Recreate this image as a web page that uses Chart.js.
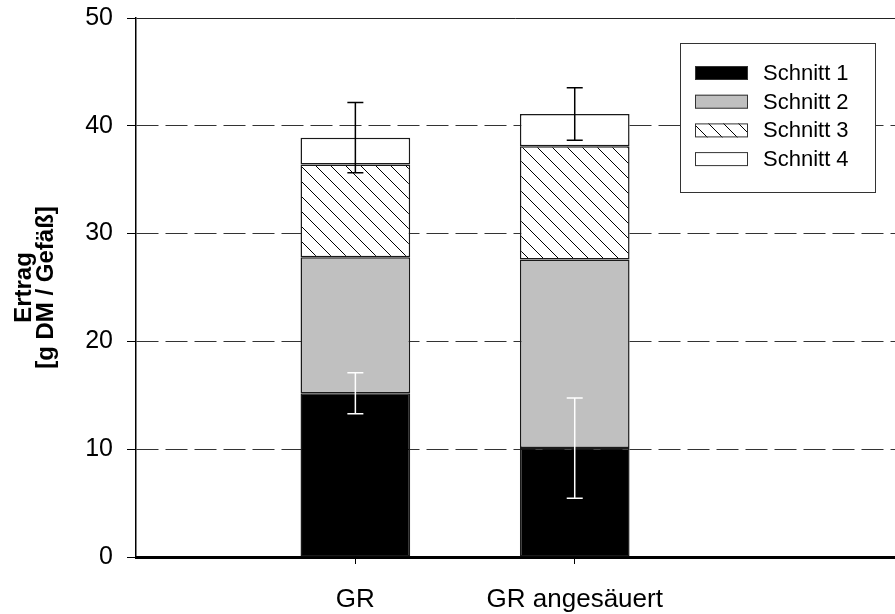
<!DOCTYPE html>
<html>
<head>
<meta charset="utf-8">
<script src="https://cdn.jsdelivr.net/npm/chart.js@4.4.1/dist/chart.umd.min.js"></script>
<style>
  html, body { margin: 0; padding: 0; background: #fff; overflow: hidden; }
  #wrap { width: 895px; height: 614px; }
</style>
</head>
<body>
<div id="wrap"><canvas id="ertrag"></canvas></div>
<script>
// values
const categories = ['GR', 'GR angesäuert'];
const seriesNames = ['Schnitt 1', 'Schnitt 2', 'Schnitt 3', 'Schnitt 4'];
const schnitt1 = [15.2, 10.1];
const schnitt2 = [12.6, 17.5];
const schnitt3 = [8.6, 10.5];
const schnitt4 = [2.5, 3.0];
const schnitt1Err = [1.9, 4.65];   // white error bar on Schnitt 1
const totalErr = [3.25, 2.43];     // black error bar on the whole stack
const yTicks = [0, 10, 20, 30, 40, 50];

const FONT = "'Liberation Sans', Arial, sans-serif";

// diagonal hatching for Schnitt 3
function makeHatch() {
    const c = document.createElement('canvas');
    c.width = 15; c.height = 15;
    const g = c.getContext('2d');
    g.fillStyle = '#fff';
    g.fillRect(0, 0, 15, 15);
    g.strokeStyle = '#000';
    g.lineWidth = 1;
    for (let k = -1; k <= 1; k++) {
        g.beginPath();
        g.moveTo(0, k * 15);
        g.lineTo(15, 15 + k * 15);
        g.stroke();
    }
    return g.createPattern(c, 'repeat');
}
const hatch = makeHatch();

// category i sits at x = i + 1 on a linear axis
const toPoints = arr => arr.map((v, i) => ({ x: i + 1, y: v }));

const fills = ['#000000', '#c0c0c0', hatch, '#ffffff'];
const values = [schnitt1, schnitt2, schnitt3, schnitt4];

const datasets = seriesNames.map((name, s) => ({
    label: name,
    data: toPoints(values[s]),
    backgroundColor: fills[s],
    borderColor: '#1a1a1a',
    borderWidth: 1.5,
    borderSkipped: false,
    grouped: false,
    barPercentage: 0.5,
    categoryPercentage: 1
}));

// error bars, drawn through the y scale
const errorBars = {
    id: 'errorBars',
    afterDatasetsDraw(chart) {
        const ctx = chart.ctx;
        const y = chart.scales.y;
        const meta = chart.getDatasetMeta(0);
        const cap = 8;
        const draw = (x, mean, err, color) => {
            const top = y.getPixelForValue(mean + err);
            const bot = y.getPixelForValue(mean - err);
            ctx.save();
            ctx.strokeStyle = color;
            ctx.lineWidth = 1.5;
            ctx.beginPath();
            ctx.moveTo(x, top); ctx.lineTo(x, bot);
            ctx.moveTo(x - cap, top); ctx.lineTo(x + cap, top);
            ctx.moveTo(x - cap, bot); ctx.lineTo(x + cap, bot);
            ctx.stroke();
            ctx.restore();
        };
        categories.forEach((c, i) => {
            const x = meta.data[i].x;
            draw(x, schnitt1[i], schnitt1Err[i], '#ffffff');
            const total = schnitt1[i] + schnitt2[i] + schnitt3[i] + schnitt4[i];
            draw(x, total, totalErr[i], '#000000');
        });
    }
};

// boxed legend inside the plot area, top right
const boxLegend = {
    id: 'boxLegend',
    afterDraw(chart) {
        const ctx = chart.ctx;
        const area = chart.chartArea;
        const w = 195, h = 149;
        const left = area.right - 20 - w;
        const top = area.top + 25;
        ctx.save();
        ctx.fillStyle = '#fff';
        ctx.fillRect(left, top, w, h);
        ctx.strokeStyle = '#333';
        ctx.lineWidth = 1;
        ctx.strokeRect(left + 0.5, top + 0.5, w, h);
        chart.data.datasets.forEach((ds, i) => {
            const cy = top + 30 + i * 28.7;
            ctx.fillStyle = ds.backgroundColor;
            ctx.fillRect(left + 15, cy - 7, 53, 14);
            ctx.strokeStyle = '#333';
            ctx.strokeRect(left + 15.5, cy - 6.5, 52, 13);
            ctx.fillStyle = '#000';
            ctx.font = '22px ' + FONT;
            ctx.textBaseline = 'middle';
            ctx.fillText(ds.label, left + 83, cy + 1);
        });
        ctx.restore();
    }
};

new Chart(document.getElementById('ertrag'), {
    type: 'bar',
    data: { datasets },
    plugins: [errorBars, boxLegend],
    options: {
        responsive: true,
        maintainAspectRatio: false,
        animation: false,
        layout: { padding: { top: 18, left: 0, right: 0, bottom: 0 } },
        plugins: {
            legend: { display: false },
            tooltip: { enabled: false }
        },
        scales: {
            x: {
                type: 'linear',
                stacked: true,
                offset: false,
                min: 0,
                max: 3.46,
                afterBuildTicks: axis => { axis.ticks = categories.map((c, i) => ({ value: i + 1 })); },
                afterFit: axis => { axis.height = 57; },
                ticks: {
                    callback: v => categories[v - 1],
                    color: '#000',
                    font: { family: FONT, size: 26 },
                    padding: 20,
                    autoSkip: false,
                    maxRotation: 0
                },
                grid: {
                    offset: false,
                    drawOnChartArea: false,
                    drawTicks: true,
                    tickLength: 7,
                    color: '#000',
                    lineWidth: 1
                },
                border: { display: true, color: '#000', width: 3 }
            },
            y: {
                stacked: true,
                min: 0,
                max: 50,
                afterBuildTicks: axis => { axis.ticks = yTicks.map(v => ({ value: v })); },
                afterFit: axis => {
                    axis.width = 136;
                    axis.paddingTop = 0;
                    axis.paddingBottom = 0;
                },
                ticks: {
                    color: '#000',
                    font: { family: FONT, size: 25 },
                    padding: 14
                },
                grid: {
                    color: c => (c.tick && c.tick.value === 0) ? 'rgba(0,0,0,0)' : (c.tick && c.tick.value === 50 ? '#222' : '#333'),
                    lineWidth: 1,
                    tickColor: '#000',
                    tickLength: 9,
                    tickBorderDash: []
                },
                border: {
                    display: true,
                    color: '#000',
                    width: 1.5,
                    dash: c => (c.tick && c.tick.value === 50) ? [] : [22, 7]
                },
                title: {
                    display: true,
                    text: ['Ertrag', '[g DM / Gefäß]'],
                    color: '#000',
                    font: { family: FONT, size: 24, weight: 'bold', lineHeight: 0.9 },
                    padding: { top: 14, bottom: 0 }
                }
            }
        }
    }
});
</script>
</body>
</html>
